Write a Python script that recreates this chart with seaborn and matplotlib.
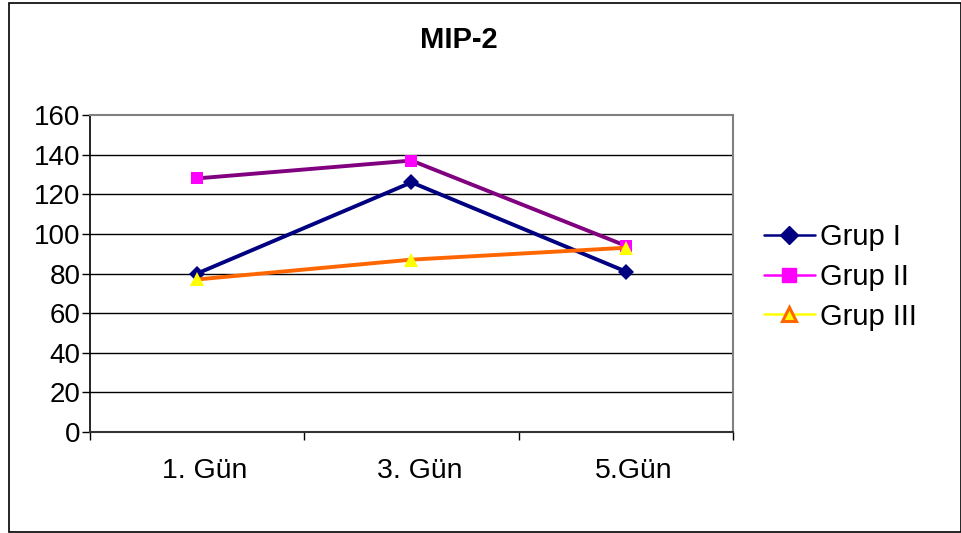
import matplotlib
matplotlib.use("Agg")
import matplotlib.pyplot as plt
import matplotlib.transforms as mtransforms
from matplotlib.lines import Line2D
from matplotlib.patches import Rectangle
import seaborn as sns
import pandas as pd

days = ["1. Gün", "3. Gün", "5.Gün"]
grup_1 = [80, 126, 81]
grup_2 = [128, 137, 94]
grup_3 = [77, 87, 93]
y_ticks = [0, 20, 40, 60, 80, 100, 120, 140, 160]

sns.set_theme(style="white")
plt.rcParams["font.family"] = ["Liberation Sans", "DejaVu Sans"]
plt.rcParams["text.color"] = "black"
plt.rcParams["xtick.color"] = "black"
plt.rcParams["ytick.color"] = "black"

df = pd.DataFrame({
    "day": days * 3,
    "x": [0, 1, 2] * 3,
    "value": grup_1 + grup_2 + grup_3,
    "group": ["Grup I"] * 3 + ["Grup II"] * 3 + ["Grup III"] * 3,
})

fig = plt.figure(figsize=(9.62, 5.33), dpi=100)
ax = fig.add_axes([90 / 962, 1 - 432 / 533, (733 - 90) / 962, (432 - 115) / 533])

styles = {
    "Grup I": dict(line="#000080", marker="D", face="#000080", edge="#000080", ms=8),
    "Grup II": dict(line="#800080", marker="s", face="#FF00FF", edge="#FF00FF", ms=8),
    "Grup III": dict(line="#FF6600", marker="^", face="#FFFF00", edge="#FFFF00", ms=9.5),
}

for g, st in styles.items():
    sub = df[df["group"] == g]
    sns.lineplot(data=sub, x="x", y="value", ax=ax, color=st["line"], linewidth=2.8,
                 marker=st["marker"], markersize=st["ms"], markerfacecolor=st["face"],
                 markeredgecolor=st["edge"], markeredgewidth=0, legend=False, zorder=3)

ax.set_xlim(-0.5, 2.5)
ax.set_ylim(0, 160)
ax.set_yticks(y_ticks)
ax.set_yticklabels([str(v) for v in y_ticks], fontsize=20)
ax.set_xticks([0, 1, 2])
ax.set_xticklabels(days, fontsize=20.5)
ax.set_xticks([-0.5, 0.5, 1.5, 2.5], minor=True)
ax.tick_params(axis="x", which="major", length=0, pad=19)
ax.tick_params(axis="x", which="minor", length=6, width=1, color="#000000", direction="out", bottom=True)
ax.tick_params(axis="y", length=6, width=1, color="#000000", direction="out", left=True, pad=1)
ax.set_xlabel("")
ax.set_ylabel("")

# category labels sit slightly right of the category centres
shift = mtransforms.ScaledTranslation(8 / 100, 0, fig.dpi_scale_trans)
for lbl in ax.get_xticklabels():
    lbl.set_transform(lbl.get_transform() + shift)

for v in y_ticks[1:-1]:
    ax.axhline(v, color="#000000", linewidth=1, zorder=1)

ax.spines["left"].set_color("#000000")
ax.spines["left"].set_linewidth(1.2)
ax.spines["bottom"].set_color("#333333")
ax.spines["bottom"].set_linewidth(1.5)
ax.spines["top"].set_color("#808080")
ax.spines["top"].set_linewidth(1.5)
ax.spines["right"].set_color("#808080")
ax.spines["right"].set_linewidth(1.5)

fig.text(459 / 962, 1 - 40 / 533, "MIP-2", ha="center", va="center",
         fontsize=21, fontweight="bold")

handles = [
    Line2D([0], [0], color="#000080", linewidth=1.8, marker="D", markersize=9,
           markerfacecolor="#000080", markeredgecolor="#000080"),
    Line2D([0], [0], color="#FF00FF", linewidth=1.8, marker="s", markersize=10,
           markerfacecolor="#FF00FF", markeredgecolor="#FF00FF"),
    Line2D([0], [0], color="#FFFF00", linewidth=1.8, marker="^", markersize=10,
           markerfacecolor="#FFFF00", markeredgecolor="#FF6600", markeredgewidth=2.2),
]
fig.legend(handles, ["Grup I", "Grup II", "Grup III"], loc="center left",
           bbox_to_anchor=(749 / 962, 1 - 277 / 533), frameon=False, fontsize=21,
           handlelength=1.75, handletextpad=0.2, labelspacing=0.4, borderpad=0)

fig.patches.append(Rectangle((8.5 / 962, 1 - 531.5 / 533), (961 - 8.5) / 962, (531.5 - 2.5) / 533,
                             transform=fig.transFigure, fill=False, edgecolor="#000000",
                             linewidth=1.2, zorder=10))

fig.savefig("out.png", dpi=100)
